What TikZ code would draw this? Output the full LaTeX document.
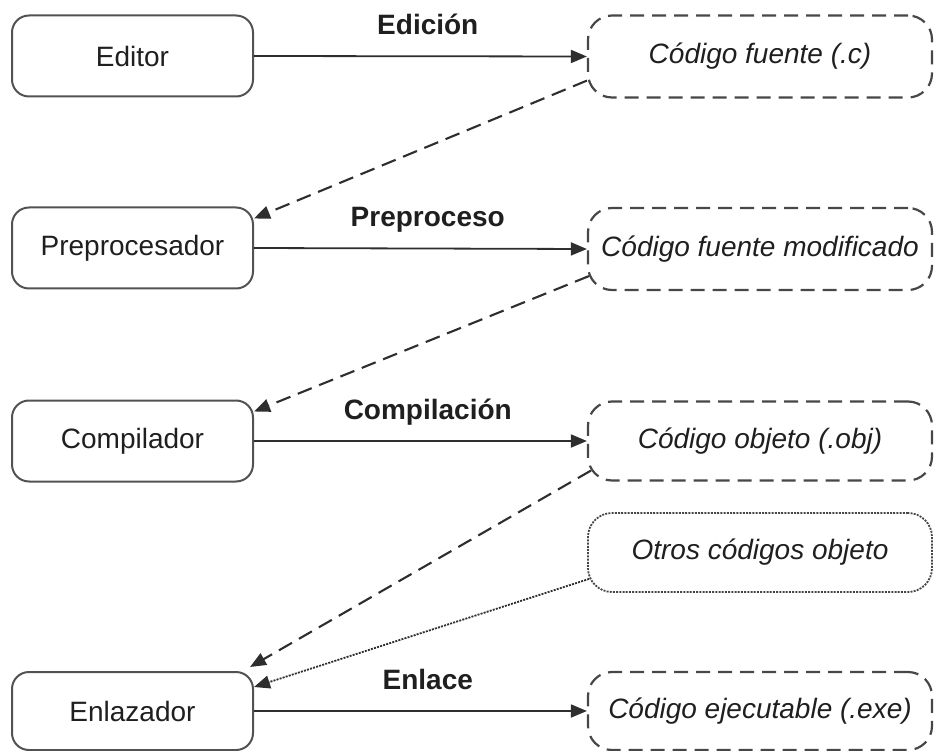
\documentclass[tikz,border=0pt]{standalone}
\usepackage{fontspec}
\setmainfont{Liberation Sans}
\usetikzlibrary{arrows.meta,calc}
\begin{document}
\begin{tikzpicture}[x=1pt,y=-1pt,
  every node/.style={font=\fontsize{28}{33}\selectfont, text=black!88},
  proc/.style={draw=black!68, line width=2pt, rounded corners=17pt, minimum width=241pt, minimum height=81pt, inner sep=0pt},
  file/.style={draw=black!72, line width=2.2pt, rounded corners=24pt, dash pattern=on 14pt off 8pt, minimum width=344pt, minimum height=82pt, inner sep=0pt, font=\fontsize{28}{33}\selectfont\itshape},
  other/.style={file, dash pattern=on 2pt off 1.2pt, line width=1.8pt, minimum height=79pt},
  flow/.style={draw=black!82, line width=1.8pt, -{Triangle[length=16pt,width=13pt]}},
  back/.style={flow, line width=2.1pt, dash pattern=on 15pt off 8pt},
  backdot/.style={flow, line width=1.8pt, dash pattern=on 2pt off 1.2pt},
  lab/.style={font=\fontsize{28}{33}\selectfont\bfseries, anchor=base, pos=0.522, yshift=22pt}
]
\useasboundingbox (0,0) rectangle (934,751);

\node[proc] (ed)  at (132.5,56)  {Editor};
\node[proc] (pre) at (132.5,248) {Preprocesador};
\node[proc] (com) at (132.5,441) {Compilador};
\node[proc, minimum height=78pt] (enl) at (132.5,711) {Enlazador};

\node[file] (c1) at (760,56.5) {Código fuente (.c)};
\node[file] (c2) at (760,249)  {Código fuente modificado};
\node[file, minimum height=79pt] (c3) at (760,441) {Código objeto (.obj)};
\node[other] (ot) at (760,552.5) {Otros códigos objeto};
\node[file, minimum height=78pt] (c4) at (760,711) {Código ejecutable (.exe)};

\draw[flow] (ed.east)  -- node[lab] {Edición} (c1.west);
\draw[flow] (pre.east) -- node[lab] {Preproceso} (c2.west);
\draw[flow] (com.east) -- node[lab] {Compilación} (c3.west);
\draw[flow] (enl.east) -- node[lab] {Enlace} (c4.west);

\draw[back] ($(c1.south west)+(0,-18)$) -- ($(pre.north east)+(0,12)$);
\draw[back] ($(c2.south west)+(2,-15)$) -- ($(com.north east)+(0,12)$);
\draw[back] ($(c3.south west)+(4,-11)$) -- ($(enl.north east)+(-4,-4)$);
\draw[backdot] ($(ot.south west)+(2,-14)$) -- ($(enl.north east)+(0,16)$);
\end{tikzpicture}
\end{document}
